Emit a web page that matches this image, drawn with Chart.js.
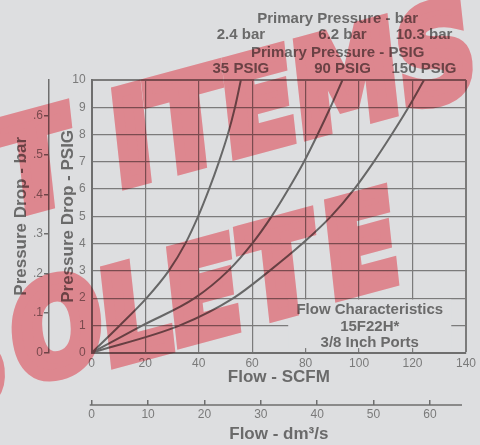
<!DOCTYPE html>
<html>
<head>
<meta charset="utf-8">
<script src="https://cdn.jsdelivr.net/npm/chart.js@4"></script>
<style>
  html, body { margin: 0; padding: 0; background: #dddee0; }
  #wrap { width: 480px; height: 445px; }
</style>
</head>
<body>
<div id="wrap"><canvas id="myChart" width="480" height="445"></canvas></div>
<script>
const pressureDrop = [0, 1, 2, 3, 4, 5, 6, 7, 8, 9, 10];
const flow35 = [0, 10.5, 20.5, 28.8, 35, 39.8, 43.9, 47.6, 50.9, 53.6, 55.8];
const flow90 = [0, 19, 38.5, 51, 60, 67.3, 73.6, 79.4, 84.5, 89.3, 93.8];
const flow150 = [0, 33, 53, 66.5, 78.8, 89.5, 98.2, 105.5, 112.2, 118.5, 124.3];

const psigLabels = ['35 PSIG', '90 PSIG', '150 PSIG'];
const barLabels = ['2.4 bar', '6.2 bar', '10.3 bar'];
const boxLines = ['Flow Characteristics', '15F22H*', '3/8 Inch Ports'];

const PSI_TO_BAR = 0.0689476;
const SCFM_MAX = 140;
const DM3_MAX = 66.4;

const bg = '#dddee0';
const gray = '#6a6a6a';
const tickGray = '#7a7a7a';
const gridGray = '#7b7b7b';
const font = '"Liberation Sans", Arial, sans-serif';

function pts(flows) {
    return flows.map((f, i) => ({x: f, y: pressureDrop[i]}));
}

function curve(flows) {
    return {
        data: pts(flows),
        borderColor: '#676767',
        borderWidth: 2,
        pointRadius: 0,
        fill: false,
        cubicInterpolationMode: 'monotone',
        xAxisID: 'x',
        yAxisID: 'y'
    };
}

const paper = {
    id: 'paper',
    beforeDraw(chart) {
        const ctx = chart.ctx;
        ctx.save();
        ctx.fillStyle = bg;
        ctx.fillRect(0, 0, chart.width, chart.height);
        ctx.restore();
    }
};

// covers grid behind the caption and writes it
const captionBox = {
    id: 'captionBox',
    beforeDatasetsDraw(chart) {
        const {ctx, scales: {x, y}} = chart;
        const l = x.getPixelForValue(73.5), r = x.getPixelForValue(134.5);
        const t = y.getPixelForValue(1.95), b = y.getPixelForValue(0.17);
        ctx.save();
        ctx.fillStyle = bg;
        ctx.fillRect(l, t, r - l, b - t);
        ctx.fillStyle = gray;
        ctx.font = 'bold 15px ' + font;
        ctx.textAlign = 'center';
        ctx.textBaseline = 'middle';
        const cx = x.getPixelForValue(104);
        boxLines.forEach((s, i) => ctx.fillText(s, cx, t + 10.5 + i * 16.5));
        ctx.restore();
    }
};

// labels over the curve ends, plus the two headers
const curveLabels = {
    id: 'curveLabels',
    afterDraw(chart) {
        const {ctx, scales: {x}} = chart;
        const tops = [flow35, flow90, flow150].map(f => x.getPixelForValue(f[f.length - 1]));
        ctx.save();
        ctx.fillStyle = gray;
        ctx.font = 'bold 15px ' + font;
        ctx.textAlign = 'center';
        ctx.textBaseline = 'middle';
        const hx = x.getPixelForValue(92);
        ctx.fillText('Primary Pressure - bar', hx, 19);
        ctx.fillText('Primary Pressure - PSIG', hx, 53);
        tops.forEach((px, i) => {
            ctx.fillText(barLabels[i], px, 35);
            ctx.fillText(psigLabels[i], px, 69);
        });
        // axis line of the dm3/s scale sits under its tick marks
        const s = chart.scales.x2;
        ctx.strokeStyle = '#6e6e6e';
        ctx.lineWidth = 1.5;
        ctx.beginPath();
        ctx.moveTo(s.left - 2, s.top + 5);
        ctx.lineTo(s.right - 4, s.top + 5);
        ctx.stroke();
        ctx.restore();
    }
};

// red "obsolete" stamp across the sheet, letter by letter
const stampLetters = [
    ['T', 4, 216], ['ITEMS', 117, 186],
    ['S', -65, 416], ['O', 17, 384], ['L', 106, 365], ['E', 172, 345], ['T', 248, 323], ['E', 330, 298]
];
const stamp = {
    id: 'stamp',
    afterDraw(chart) {
        const off = document.createElement('canvas');
        off.width = chart.width;
        off.height = chart.height;
        const o = off.getContext('2d');
        o.fillStyle = o.strokeStyle = 'rgb(255,155,163)';
        o.lineWidth = 12;
        o.lineJoin = 'miter';
        o.font = 'bold 126px "DejaVu Sans"';
        o.textBaseline = 'alphabetic';
        stampLetters.forEach(([w, ox, oy]) => {
            o.setTransform(0.83, -0.224, 0.109, 0.994, ox, oy);
            o.fillText(w, 0, 0);
            o.strokeText(w, 0, 0);
        });
        const ctx = chart.ctx;
        ctx.save();
        ctx.globalCompositeOperation = 'multiply';
        ctx.drawImage(off, 0, 0);
        ctx.restore();
    }
};

function drawChart() {
    const ctx = document.getElementById('myChart').getContext('2d');
    new Chart(ctx, {
        type: 'line',
        data: {datasets: [curve(flow35), curve(flow90), curve(flow150)]},
        options: {
            responsive: false,
            animation: false,
            events: [],
            layout: {padding: {top: 80, right: 10.7, left: 0, bottom: 0}},
            plugins: {legend: {display: false}, tooltip: {enabled: false}},
            scales: {
                x: {
                    type: 'linear', position: 'bottom', min: 0, max: SCFM_MAX,
                    ticks: {stepSize: 20, color: tickGray, font: {family: font, size: 12}, padding: 4, maxRotation: 0},
                    grid: {color: gridGray, lineWidth: c => c.tick && c.tick.value === SCFM_MAX ? 2 : 1.2, drawTicks: false},
                    border: {display: true, color: '#6e6e6e', width: 2},
                    title: {display: true, text: 'Flow - SCFM', color: gray, font: {family: font, size: 17, weight: 'bold'}, padding: {top: 0, bottom: 12}},
                    afterFit: s => { s.height = 47.3; }
                },
                x2: {
                    type: 'linear', position: 'bottom', min: 0, max: DM3_MAX,
                    ticks: {stepSize: 10, includeBounds: false, color: tickGray, font: {family: font, size: 12}, padding: 2, maxRotation: 0},
                    grid: {drawOnChartArea: false, drawTicks: true, tickLength: 5, color: '#6e6e6e', lineWidth: 1.5},
                    border: {display: false},
                    title: {display: true, text: 'Flow - dm³/s', color: gray, font: {family: font, size: 17, weight: 'bold'}, padding: {top: 0, bottom: 0}},
                    afterFit: s => { s.height = 45; }
                },
                y: {
                    type: 'linear', position: 'left', min: 0, max: 10, weight: 0,
                    ticks: {stepSize: 1, color: tickGray, font: {family: font, size: 12}, padding: 6},
                    grid: {color: gridGray, lineWidth: c => c.tick && c.tick.value === 10 ? 2 : 1.2, drawTicks: false},
                    border: {display: true, color: '#6e6e6e', width: 2},
                    title: {display: true, text: 'Pressure Drop - PSIG', color: gray, font: {family: font, size: 17, weight: 'bold'}, padding: {top: 9, bottom: 0}},
                    afterFit: s => { s.width = 42.7; }
                },
                y2: {
                    type: 'linear', position: 'left', min: 0, max: 10 * PSI_TO_BAR, weight: 1,
                    ticks: {stepSize: 0.1, includeBounds: false, color: tickGray, font: {family: font, size: 12}, padding: 1,
                        callback: v => v === 0 ? '0' : '.' + Math.round(v * 10)},
                    grid: {drawOnChartArea: false, drawTicks: true, tickLength: 5, color: '#6e6e6e', lineWidth: 1.5},
                    border: {display: true, color: '#6e6e6e', width: 1.5},
                    title: {display: true, text: 'Pressure Drop - bar', color: gray, font: {family: font, size: 17, weight: 'bold'}, padding: {top: 11, bottom: 0}},
                    afterFit: s => { s.width = 49; }
                }
            }
        },
        plugins: [paper, captionBox, curveLabels, stamp]
    });
}

drawChart();
</script>
</body>
</html>
